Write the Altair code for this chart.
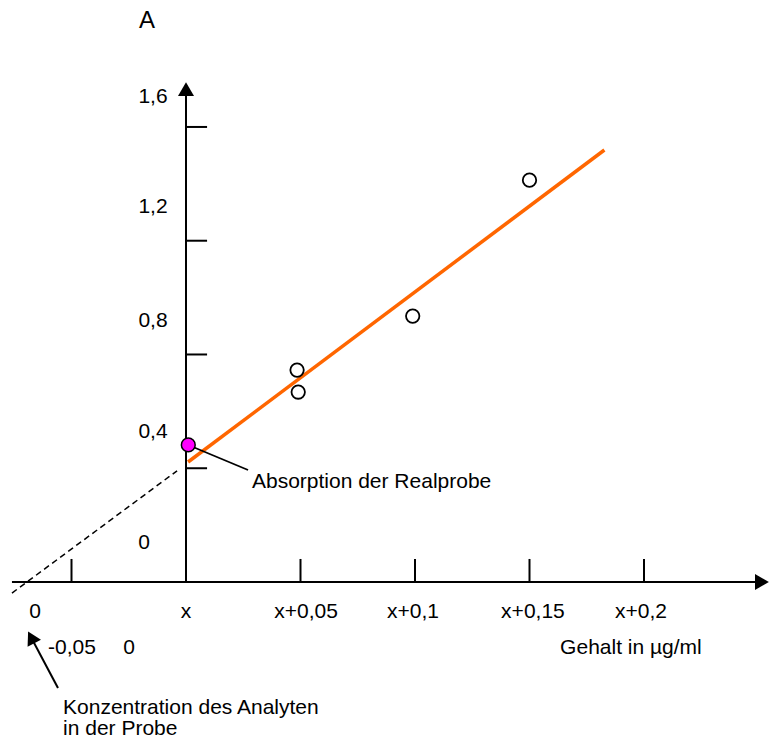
import altair as alt
import pandas as pd

# ---- data ----
added_x = [0.0485, 0.049, 0.099, 0.150]          # added concentration (x + ...)
absorb_y = [0.745, 0.668, 0.935, 1.413]          # absorbance of spiked samples
real_x = [0.001]
real_y = [0.482]                                  # absorbance of real sample
fit_x = [0.0009, 0.1827]
fit_y = [0.422, 1.519]
extra_x = [-0.076, -0.0039]
extra_y = [-0.039, 0.391]

y_tick_vals = [0.4, 0.8, 1.2, 1.6]
y_label_text = ["0", "0,4", "0,8", "1,2", "1,6"]
y_label_pos = [0.137, 0.527, 0.918, 1.319, 1.705]
y_label_x = [-0.0183, -0.0144, -0.0144, -0.0144, -0.0144]

x_tick_vals = [-0.05, 0.05, 0.10, 0.15, 0.20]
x_label_text = ["0", "x", "x+0,05", "x+0,1", "x+0,15", "x+0,2"]
x_label_pos = [-0.0659, 0.0, 0.0524, 0.0991, 0.1515, 0.1987]
x_label2_text = ["-0,05", "0"]
x_label2_pos = [-0.0498, -0.0249]

FONT = "Liberation Sans"
FS = 21

xs = alt.Scale(domain=[-186 / 2290, 590 / 2290], nice=False, zero=False)
ys = alt.Scale(domain=[(582 - 740) / 284.4, 582 / 284.4], nice=False, zero=False)


def X(f="x"):
    return alt.X(f"{f}:Q", scale=xs, axis=None)


def Y(f="y"):
    return alt.Y(f"{f}:Q", scale=ys, axis=None)


def seg(df, **kw):
    return alt.Chart(df).mark_rule(**kw).encode(
        x=X("x"), x2="x2:Q", y=Y("y"), y2="y2:Q"
    )


# axes
axes_df = pd.DataFrame({
    "x": [-0.076, 0.0], "x2": [0.252, 0.0],
    "y": [0.0, 0.0], "y2": [0.0, 1.735],
})
axes = seg(axes_df, color="black", strokeWidth=2)

heads = alt.Chart(pd.DataFrame({
    "x": [0.2515, 0.0], "y": [0.0, 1.733], "shape": ["triangle-right", "triangle-up"]
})).mark_point(filled=True, color="black", size=256, opacity=1).encode(
    x=X(), y=Y(), shape=alt.Shape("shape:N", scale=None)
)

ytk = seg(pd.DataFrame({
    "x": [0.0] * 4, "x2": [0.0092] * 4, "y": y_tick_vals, "y2": y_tick_vals
}), color="black", strokeWidth=2)

xtk = seg(pd.DataFrame({
    "x": x_tick_vals, "x2": x_tick_vals, "y": [0.0] * 5, "y2": [0.081] * 5
}), color="black", strokeWidth=2)

# data marks
extra = alt.Chart(pd.DataFrame({"x": extra_x, "y": extra_y})).mark_line(
    color="black", strokeWidth=1.5, strokeDash=[6, 4]
).encode(x=X(), y=Y())

fit = alt.Chart(pd.DataFrame({"x": fit_x, "y": fit_y})).mark_line(
    color="#FF6600", strokeWidth=3.5
).encode(x=X(), y=Y())

pts = alt.Chart(pd.DataFrame({"x": added_x, "y": absorb_y})).mark_point(
    shape="circle", size=180, filled=False, fill="white", fillOpacity=1,
    stroke="black", strokeWidth=1.8, opacity=1
).encode(x=X(), y=Y())

leader = seg(pd.DataFrame({
    "x": [0.00306], "x2": [0.0271], "y": [0.4747], "y2": [0.3938]
}), color="black", strokeWidth=1.8)

real = alt.Chart(pd.DataFrame({"x": real_x, "y": real_y})).mark_point(
    shape="circle", size=190, filled=True, fill="#FF00FF", fillOpacity=1,
    stroke="black", strokeWidth=1.5, opacity=1
).encode(x=X(), y=Y())

# annotation arrow
arrow_line = seg(pd.DataFrame({
    "x": [-0.0559], "x2": [-0.0668], "y": [-0.3727], "y2": [-0.2075]
}), color="black", strokeWidth=2)
arrow_head = alt.Chart(pd.DataFrame({"x": [-0.0676], "y": [-0.1948]})).mark_point(
    shape="triangle-up", filled=True, color="black", size=230, angle=332, opacity=1
).encode(x=X(), y=Y())


def txt(df, align="center", size=FS):
    return alt.Chart(df).mark_text(
        font=FONT, fontSize=size, color="black", align=align, baseline="middle"
    ).encode(x=X(), y=Y(), text="t:N")


ylab = txt(pd.DataFrame({"x": y_label_x, "y": y_label_pos, "t": y_label_text}))
xlab = txt(pd.DataFrame({"x": x_label_pos, "y": [-0.1055] * 6, "t": x_label_text}))
xlab2 = txt(pd.DataFrame({"x": x_label2_pos, "y": [-0.2321] * 2, "t": x_label2_text}))
gehalt = txt(pd.DataFrame({"x": [0.1943], "y": [-0.2321], "t": ["Gehalt in µg/ml"]}))
alab = txt(pd.DataFrame({"x": [-0.0170], "y": [1.9726], "t": ["A"]}), size=24)
absn = txt(pd.DataFrame({"x": [0.0288], "y": [0.3516], "t": ["Absorption der Realprobe"]}),
           align="left")
konz = txt(pd.DataFrame({"x": [-0.0537, -0.0537], "y": [-0.4430, -0.5175],
                         "t": ["Konzentration des Analyten", "in der Probe"]}),
           align="left")

chart = alt.layer(
    extra, axes, heads, ytk, xtk, fit, pts, leader, real, arrow_line, arrow_head,
    ylab, xlab, xlab2, gehalt, alab, absn, konz
).properties(
    width=776, height=740, padding=0, autosize=alt.AutoSizeParams(type="none"),
    background="white"
).configure_view(stroke=None)

chart.save("out.html", embed_options={"renderer": "svg", "actions": False})
